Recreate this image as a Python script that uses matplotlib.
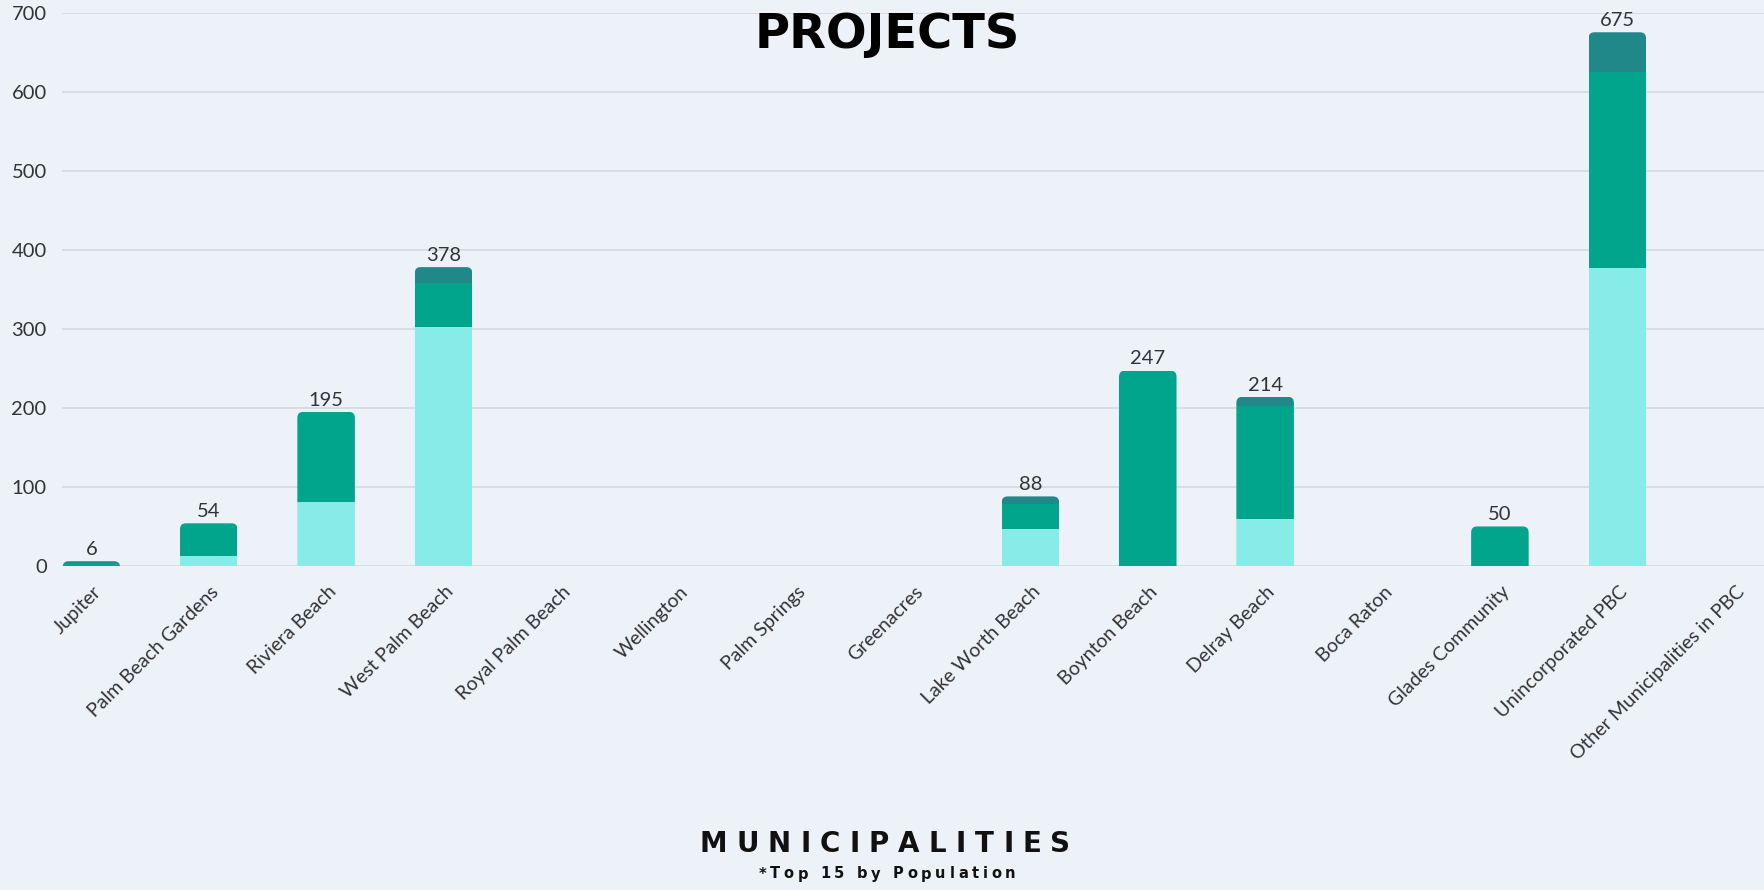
import matplotlib
matplotlib.use("Agg")
import matplotlib.pyplot as plt
import matplotlib.transforms as mtransforms
from matplotlib.patches import FancyBboxPatch
import numpy as np

# ---------------- data ----------------
categories = [
    "Jupiter", "Palm Beach Gardens", "Riviera Beach", "West Palm Beach",
    "Royal Palm Beach", "Wellington", "Palm Springs", "Greenacres",
    "Lake Worth Beach", "Boynton Beach", "Delray Beach", "Boca Raton",
    "Glades Community", "Unincorporated PBC", "Other Municipalities in PBC",
]
light_vals = [0, 13, 81, 302, 0, 0, 0, 0, 47, 0, 59, 0, 0, 377, 0]
mid_vals = [4, 41, 114, 56, 0, 0, 0, 0, 32, 247, 143, 0, 50, 248, 0]
dark_vals = [2, 0, 0, 20, 0, 0, 0, 0, 9, 0, 12, 0, 0, 50, 0]
y_ticks = [0, 100, 200, 300, 400, 500, 600, 700]

title_text = "PROJECTS"
xlabel_text = "MUNICIPALITIES"
subtitle_text = "*Top 15 by Population"

# ---------------- style ----------------
BG = "#EDF1F8"
GRID = "#D8DCE4"
C_LIGHT = "#87EBE7"
C_MID = "#00A58B"
C_DARK = "#21888A"
TXT = "#333333"

W, H, DPI = 1764, 890, 100
fig = plt.figure(figsize=(W / DPI, H / DPI), dpi=DPI, facecolor=BG)
ax = fig.add_axes([62 / W, 1 - 566 / H, 1 - 62 / W, (566 - 12.5) / H])
ax.set_facecolor(BG)

x = np.arange(len(categories))
light = np.array(light_vals, dtype=float)
mid = np.array(mid_vals, dtype=float)
dark = np.array(dark_vals, dtype=float)
totals = light + mid + dark

bw = 0.49
b1 = ax.bar(x, light, bw, color=C_LIGHT, zorder=3, linewidth=0)
b2 = ax.bar(x, mid, bw, bottom=light, color=C_MID, zorder=3, linewidth=0)
b3 = ax.bar(x, dark, bw, bottom=light + mid, color=C_DARK, zorder=3, linewidth=0)

ax.set_xlim(-0.25, len(categories) - 0.75)
ax.set_ylim(0, 700)

# rounded top corners via clip paths
ax_w_px = (1 - 62 / W) * W
ax_h_px = (566 - 12.5)
x_per_px = (len(categories) - 0.5) / ax_w_px
y_per_px = 700 / ax_h_px
r_px = 6
for i in range(len(categories)):
    if totals[i] <= 0:
        continue
    clip = FancyBboxPatch((x[i] - bw / 2, -50), bw, totals[i] + 50,
                          boxstyle=f"round,pad=0,rounding_size={r_px * x_per_px}",
                          mutation_aspect=y_per_px / x_per_px,
                          transform=ax.transData, facecolor="none", edgecolor="none")
    for bars in (b1, b2, b3):
        bars[i].set_clip_path(clip)

# value labels
for i in range(len(categories)):
    if totals[i] > 0:
        ax.annotate(f"{int(totals[i])}", (x[i], totals[i]), xytext=(0, 4.5),
                    textcoords="offset points", ha="center", va="baseline",
                    fontsize=14.5, color=TXT, family="Lato", zorder=5)

ax.set_yticks(y_ticks)
ax.set_yticklabels([str(v) for v in y_ticks], fontsize=14.5, color=TXT, family="Lato")
ax.set_xticks(x)
ax.set_xticklabels([])
ax.tick_params(axis="y", length=0, pad=11)
ax.tick_params(axis="x", length=0)

# category labels (rotated, anchored at upper-right end)
lab_tr = ax.get_xaxis_transform() + mtransforms.ScaledTranslation(
    7 / DPI, -23 / DPI, fig.dpi_scale_trans)
for i, name in enumerate(categories):
    ax.text(x[i], 0, name, transform=lab_tr, rotation=45, ha="right", va="center",
            rotation_mode="anchor", fontsize=14, color=TXT, family="Lato")

ax.grid(axis="y", color=GRID, linewidth=1.4, zorder=0)
ax.set_axisbelow(True)
for s in ax.spines.values():
    s.set_visible(False)

# title
fig.text(887 / W, 1 - 35 / H, title_text, ha="center", va="center",
         fontsize=34.5, fontweight="bold", family="DejaVu Sans", color="#000000")


def spaced_text(xc_px, yc_px, s, size, total_w_px, **kw):
    renderer = fig.canvas.get_renderer()
    items = []
    for ch in s:
        t = fig.text(0, 1 - yc_px / H, ch, fontsize=size, ha="left", va="center", **kw)
        if ch == " ":
            w = size * 0.33 * DPI / 72
        else:
            w = t.get_window_extent(renderer).width
        items.append((t, w))
    nat = sum(w for _, w in items)
    gap = (total_w_px - nat) / (len(s) - 1)
    cur = xc_px - total_w_px / 2
    for t, w in items:
        t.set_x(cur / W)
        cur += w + gap


spaced_text(885, 844, xlabel_text, 20, 371, fontweight="bold",
            family="DejaVu Sans", color="#111111")
spaced_text(887, 874, subtitle_text, 10.5, 257, fontweight="bold",
            family="DejaVu Sans", color="#111111")

fig.savefig("out.png", dpi=DPI, facecolor=BG)
